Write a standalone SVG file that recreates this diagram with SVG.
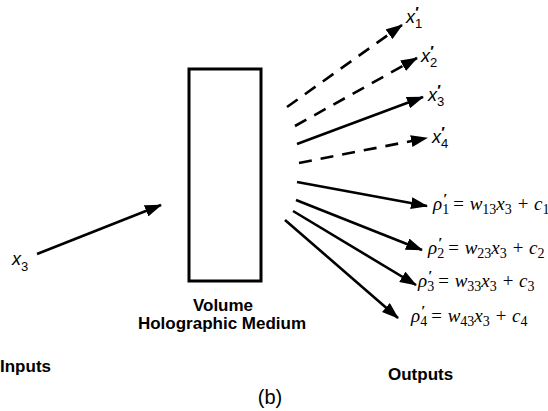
<svg xmlns="http://www.w3.org/2000/svg" width="548" height="411" viewBox="0 0 548 411">
<style>
.ln{stroke:#000;stroke-width:2.6;fill:none}
.da{stroke-dasharray:13 9}
.lbl{font-family:"Liberation Sans",Arial,sans-serif;font-weight:bold;font-size:17px;fill:#000}
.var{font-family:"Liberation Sans",Arial,sans-serif;font-style:italic;font-size:18px;fill:#000}
.sb{font-style:normal;font-size:13px}
.pr{font-style:normal;font-size:15px;font-weight:bold}
.eq{font-family:"Liberation Serif","Times New Roman",serif;font-style:italic;font-size:19px;fill:#000}
.eq .s{font-style:normal;font-size:14px}
.eq .p{font-style:normal;font-size:15px;font-weight:bold}
</style>
<defs>
<marker id="ah" markerUnits="userSpaceOnUse" markerWidth="17" markerHeight="12" refX="16" refY="6" orient="auto">
<path d="M0,0 L17,6 L0,12 z" fill="#000"/>
</marker>
</defs>
<rect width="548" height="411" fill="#fff"/>
<g id="medium">
<rect x="189" y="69" width="72" height="212" fill="none" stroke="#000" stroke-width="3"/>
<text class="lbl" x="223" y="311" text-anchor="middle">Volume</text>
<text class="lbl" x="222" y="329" text-anchor="middle">Holographic Medium</text>
</g>
<g id="input">
<text class="var" x="12" y="265" font-size="19">x<tspan class="sb" font-size="14" dy="6">3</tspan></text>
</g>
<g id="x1"><text class="var" x="406" y="23">x<tspan class="sb" dy="5">1</tspan><tspan class="pr" dx="-7" dy="-11">′</tspan></text></g>
<g id="x2"><text class="var" x="421" y="62">x<tspan class="sb" dy="5">2</tspan><tspan class="pr" dx="-7" dy="-11">′</tspan></text></g>
<g id="x3"><text class="var" x="428" y="101">x<tspan class="sb" dy="5">3</tspan><tspan class="pr" dx="-7" dy="-11">′</tspan></text></g>
<g id="x4"><text class="var" x="432" y="143">x<tspan class="sb" dy="5">4</tspan><tspan class="pr" dx="-7" dy="-11">′</tspan></text></g>
<g id="eq1"><text class="eq" x="433" y="210">ρ<tspan class="s" dy="4">1</tspan><tspan class="p" dx="-6" dy="-10">′</tspan><tspan dy="6"> = w</tspan><tspan class="s" dy="4">13</tspan><tspan dy="-4">x</tspan><tspan class="s" dy="4">3</tspan><tspan dy="-4"> + c</tspan><tspan class="s" dy="4">1</tspan></text></g>
<g id="eq2"><text class="eq" x="428" y="254">ρ<tspan class="s" dy="4">2</tspan><tspan class="p" dx="-6" dy="-10">′</tspan><tspan dy="6"> = w</tspan><tspan class="s" dy="4">23</tspan><tspan dy="-4">x</tspan><tspan class="s" dy="4">3</tspan><tspan dy="-4"> + c</tspan><tspan class="s" dy="4">2</tspan></text></g>
<g id="eq3"><text class="eq" x="418" y="287">ρ<tspan class="s" dy="4">3</tspan><tspan class="p" dx="-6" dy="-10">′</tspan><tspan dy="6"> = w</tspan><tspan class="s" dy="4">33</tspan><tspan dy="-4">x</tspan><tspan class="s" dy="4">3</tspan><tspan dy="-4"> + c</tspan><tspan class="s" dy="4">3</tspan></text></g>
<g id="eq4"><text class="eq" x="411" y="322">ρ<tspan class="s" dy="4">4</tspan><tspan class="p" dx="-6" dy="-10">′</tspan><tspan dy="6"> = w</tspan><tspan class="s" dy="4">43</tspan><tspan dy="-4">x</tspan><tspan class="s" dy="4">3</tspan><tspan dy="-4"> + c</tspan><tspan class="s" dy="4">4</tspan></text></g>
<g id="labels">
<text class="lbl" x="0" y="372">Inputs</text>
<text class="lbl" x="388" y="380">Outputs</text>
<text x="270" y="404" text-anchor="middle" font-family="Liberation Sans,Arial,sans-serif" font-size="20">(b)</text>
</g>
<g id="connectors">
<line class="ln" x1="37" y1="254" x2="161" y2="205" marker-end="url(#ah)"/>
<line class="ln da" x1="287" y1="107" x2="402" y2="25" marker-end="url(#ah)"/>
<line class="ln da" x1="295" y1="126" x2="417" y2="58" marker-end="url(#ah)"/>
<line class="ln" x1="297" y1="144" x2="423" y2="97" marker-end="url(#ah)"/>
<line class="ln da" x1="299" y1="163" x2="427" y2="138" marker-end="url(#ah)"/>
<line class="ln" x1="297" y1="182" x2="427" y2="206" marker-end="url(#ah)"/>
<line class="ln" x1="296" y1="200" x2="422" y2="250" marker-end="url(#ah)"/>
<line class="ln" x1="293" y1="211" x2="416" y2="285" marker-end="url(#ah)"/>
<line class="ln" x1="285" y1="220" x2="398" y2="318" marker-end="url(#ah)"/>
</g>
</svg>
